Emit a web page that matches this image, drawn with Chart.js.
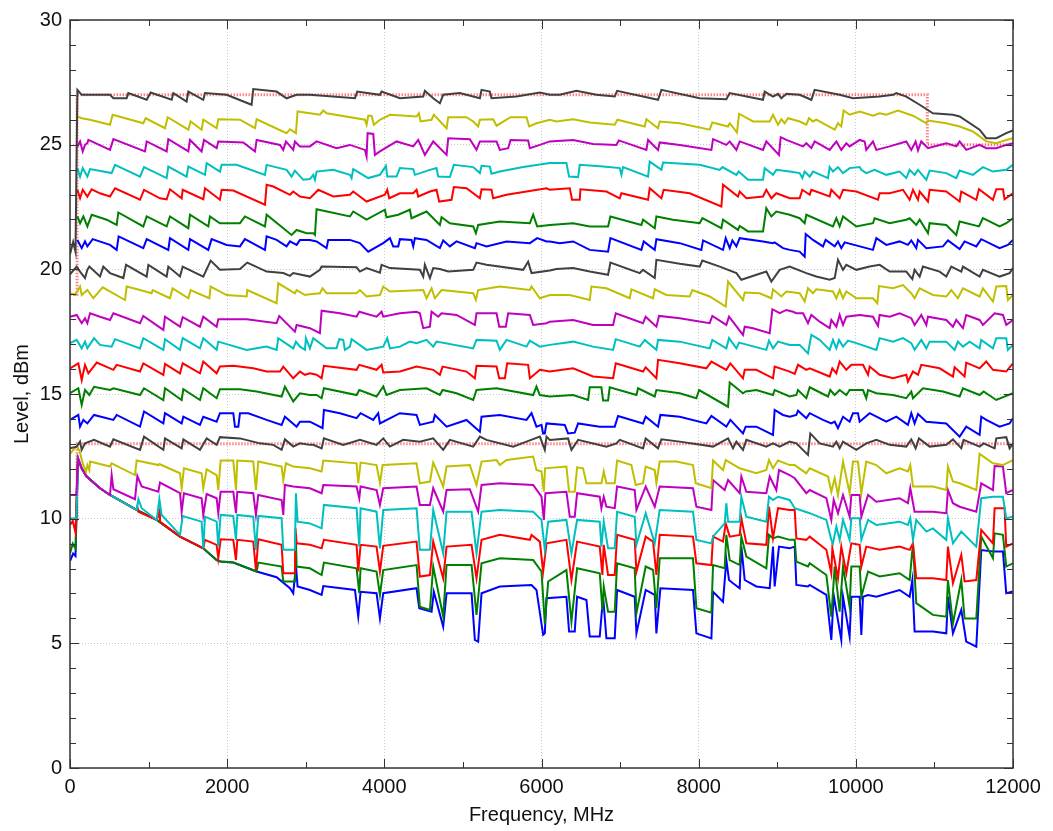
<!DOCTYPE html>
<html>
<head>
<meta charset="utf-8">
<title>Level vs frequency</title>
<script src="https://cdn.jsdelivr.net/npm/chart.js@4.4.1/dist/chart.umd.min.js"></script>
<style>
  html, body { margin: 0; padding: 0; background: #fff; }
  #wrap { width: 1053px; height: 831px; }
</style>
</head>
<body>
<div id="wrap"><canvas id="levelChart" width="1053" height="831"></canvas></div>
<script>
// axis ticks
const freqTicks = [0, 2000, 4000, 6000, 8000, 10000, 12000]
const levelTicks = [0, 5, 10, 15, 20, 25, 30]

// measured traces, [frequency MHz, level dBm], one per drive step
const trace27 = [[0,20.6],[40,21.1],[70,20.7],[94,27.2],[149,27.0],[509,27.0],[552,26.86],[721,26.86],[742,27.07],[976,26.8],[1026,27.09],[1294,26.8],[1315,27.07],[1484,26.73],[1506,27.13],[1696,26.8],[1718,27.07],[1993,27.0],[2311,26.6],[2332,27.23],[2629,27.13],[2756,26.86],[2884,27.0],[3053,27.0],[3626,26.86],[3655,27.13],[3944,27.0],[3965,27.13],[4198,26.86],[4495,26.93],[4516,27.16],[4622,26.86],[4707,26.66],[4749,27.0],[4961,27.07],[5216,26.86],[5237,27.2],[5343,27.13],[5364,26.86],[5682,26.93],[5979,27.09],[6106,27.0],[6232,27.0],[6444,27.16],[6699,27.0],[6932,26.93],[6962,27.16],[7483,26.8],[7526,27.2],[8013,26.86],[8352,26.82],[8395,27.07],[8819,26.8],[8840,27.13],[8946,26.93],[9010,27.04],[9052,26.86],[9116,27.04],[9285,27.0],[9434,26.8],[9476,27.2],[9794,27.0],[9964,26.86],[10303,26.93],[10473,27.0],[10515,27.07],[10642,26.93],[10812,26.6],[10981,26.26],[11236,26.2],[11321,26.13],[11575,25.6],[11660,25.26],[11787,25.26],[11914,25.46],[11999,25.57]]
const trace26 = [[94,26.13],[149,26.06],[255,26.0],[509,25.8],[543,26.2],[933,25.86],[963,26.06],[1209,25.66],[1243,26.1],[1506,25.6],[1535,25.93],[1675,25.6],[1696,26.0],[1866,25.66],[1887,26.02],[2163,26.0],[2354,25.66],[2375,26.02],[2756,25.46],[2799,25.62],[2875,25.46],[2896,26.33],[3053,26.26],[3180,26.2],[3223,26.37],[3265,26.26],[3753,26.0],[3774,25.8],[3795,26.16],[3838,26.16],[3867,25.8],[3944,26.0],[4071,26.2],[4410,26.13],[4440,26.26],[4461,25.93],[4601,26.0],[4630,26.2],[4792,25.66],[4813,26.1],[5046,26.1],[5131,25.93],[5194,25.73],[5216,26.0],[5385,26.02],[5428,25.76],[5606,26.1],[5809,26.1],[5843,25.73],[5936,25.86],[6106,26.0],[6190,25.93],[6402,26.02],[6614,25.89],[6932,25.8],[6966,26.0],[7314,25.73],[7335,26.02],[7483,25.66],[7504,25.93],[7759,25.86],[8140,25.6],[8174,25.89],[8374,25.73],[8395,25.86],[8488,25.49],[8514,26.24],[8692,25.93],[8904,25.93],[8946,26.2],[9010,25.8],[9052,26.02],[9094,25.86],[9137,26.06],[9285,25.93],[9370,25.8],[9404,26.06],[9455,25.93],[9497,26.0],[9731,25.6],[9773,25.86],[9815,25.73],[9845,26.37],[9921,26.2],[10049,26.33],[10218,26.16],[10303,26.26],[10388,26.2],[10536,26.37],[10727,26.16],[10854,25.93],[10897,25.86],[10918,25.97],[11151,25.86],[11321,25.73],[11490,25.53],[11660,25.13],[11787,25.06],[11914,25.19],[11999,25.26]]
const trace25 = [[94,24.93],[128,25.13],[162,24.73],[191,24.99],[221,25.06],[234,25.19],[509,24.79],[552,25.22],[954,24.73],[976,25.13],[1230,24.73],[1251,25.22],[1506,24.73],[1527,25.19],[1675,24.73],[1705,25.19],[1866,24.86],[1887,25.13],[2205,25.09],[2354,24.73],[2375,25.19],[2672,24.99],[2714,24.79],[2748,25.13],[2841,24.79],[2862,25.13],[2926,24.93],[3053,24.93],[3138,25.13],[3392,24.86],[3562,24.99],[3753,24.79],[3774,24.53],[3787,25.46],[3859,25.43],[3880,24.59],[3944,24.73],[4156,25.13],[4368,24.93],[4431,25.19],[4516,24.59],[4622,25.13],[4792,24.59],[4813,25.26],[5088,25.22],[5173,24.79],[5216,25.13],[5428,25.13],[5470,24.79],[5576,24.86],[5606,25.19],[5830,25.17],[5852,24.86],[5979,24.99],[6106,25.13],[6402,25.19],[6656,25.03],[6953,24.99],[6983,25.17],[7335,24.79],[7356,25.19],[7483,24.79],[7504,25.09],[7759,24.99],[8162,24.79],[8183,25.22],[8352,24.99],[8395,25.13],[8480,24.79],[8522,25.13],[8819,24.79],[8861,25.13],[9022,24.59],[9044,25.3],[9116,25.19],[9328,24.93],[9370,25.06],[9434,24.86],[9476,25.13],[9667,24.79],[9752,25.13],[9815,24.79],[9879,25.06],[9921,24.93],[10049,25.19],[10112,25.13],[10133,24.79],[10218,25.13],[10261,24.79],[10430,24.93],[10642,25.13],[10706,24.79],[10761,25.13],[10791,24.77],[10833,25.13],[10918,24.86],[11151,25.06],[11278,24.93],[11321,25.13],[11405,24.79],[11575,24.99],[11660,24.86],[11787,24.86],[11914,24.99],[11999,25.06]]
const trace24 = [[94,24.06],[128,23.72],[162,24.06],[221,23.72],[255,24.02],[530,23.86],[573,24.19],[891,23.72],[942,24.1],[1230,23.66],[1251,24.12],[1484,23.72],[1506,24.12],[1718,23.79],[1739,24.26],[1908,23.92],[1930,24.19],[2120,24.19],[2481,23.79],[2502,24.19],[2756,23.99],[2820,23.72],[2862,23.96],[2968,23.59],[3053,23.62],[3096,23.79],[3117,23.59],[3138,23.92],[3350,23.99],[3562,23.79],[3583,23.66],[3604,24.02],[3689,23.86],[3795,23.66],[3944,23.79],[4020,24.15],[4037,23.72],[4156,23.72],[4198,24.06],[4368,24.02],[4389,23.79],[4580,23.99],[4664,24.06],[4686,23.72],[4834,23.7],[4885,24.19],[5131,24.1],[5216,23.86],[5237,24.15],[5343,24.12],[5364,23.83],[5470,23.92],[5767,24.1],[6106,24.26],[6317,24.26],[6351,23.72],[6466,23.7],[6487,24.19],[6784,24.12],[6996,24.06],[7017,23.79],[7038,24.1],[7356,23.72],[7377,24.32],[7526,23.99],[7547,24.28],[8013,24.19],[8268,23.99],[8302,24.1],[8480,23.79],[8509,23.92],[8628,23.59],[8819,23.59],[8840,24.06],[8946,23.79],[8988,23.99],[9158,23.92],[9285,23.86],[9319,23.66],[9349,23.92],[9413,23.72],[9455,23.92],[9646,23.66],[9667,24.1],[9709,23.92],[9773,24.1],[9837,23.86],[9921,24.06],[10049,24.1],[10070,23.99],[10133,23.86],[10239,23.99],[10388,23.79],[10557,23.92],[10642,23.66],[10685,23.99],[10748,23.79],[10791,23.99],[10897,23.59],[10939,23.96],[11151,23.86],[11278,23.66],[11321,23.96],[11490,23.79],[11617,24.1],[11745,23.92],[11914,23.99],[11999,24.19]]
const trace23 = [[94,23.19],[128,22.85],[162,23.19],[221,22.92],[276,23.21],[382,23.05],[509,22.92],[573,23.25],[891,22.79],[942,23.19],[1145,22.85],[1230,22.81],[1272,23.21],[1421,22.85],[1434,23.19],[1696,22.81],[1718,23.25],[1908,22.79],[1930,23.19],[2078,23.16],[2481,22.59],[2502,23.39],[2587,23.32],[2799,22.99],[2841,23.12],[2926,22.92],[3053,22.85],[3117,23.05],[3159,23.19],[3350,22.92],[3562,22.99],[3604,23.12],[3774,22.72],[4007,22.99],[4037,23.19],[4062,22.85],[4198,23.05],[4368,23.05],[4410,23.19],[4431,22.92],[4580,23.12],[4664,23.19],[4698,22.72],[4855,22.79],[4885,23.3],[5046,23.25],[5216,22.85],[5237,23.21],[5364,23.19],[5385,22.85],[5555,22.99],[6064,23.25],[6106,23.19],[6360,23.25],[6389,22.79],[6487,22.79],[6495,23.21],[6826,23.12],[6996,22.85],[7017,23.05],[7356,22.79],[7377,23.25],[7526,22.85],[7555,23.19],[7886,23.05],[8289,22.52],[8310,23.39],[8501,22.92],[8522,23.12],[8607,22.85],[8819,22.92],[8861,23.19],[8925,22.85],[8988,23.05],[9158,22.85],[9285,22.85],[9319,23.19],[9413,22.99],[9434,23.19],[9667,22.92],[9688,23.19],[9794,22.85],[9837,23.19],[10006,23.12],[10282,22.79],[10303,23.05],[10430,23.05],[10600,23.19],[10685,22.79],[10727,23.19],[10791,22.79],[10812,23.12],[10918,22.72],[10939,23.19],[11151,23.12],[11321,22.72],[11342,23.12],[11533,22.79],[11567,23.21],[11745,22.79],[11787,23.21],[11872,23.21],[11893,22.81],[11999,23.05]]
const trace22 = [[94,22.12],[128,21.85],[170,22.12],[221,21.72],[276,22.19],[467,21.99],[594,21.78],[615,22.28],[933,21.72],[976,22.12],[1230,21.72],[1272,22.12],[1506,21.65],[1527,22.19],[1760,21.72],[1781,22.12],[1908,21.85],[2163,21.85],[2226,22.12],[2481,21.72],[2502,22.19],[2820,21.38],[2884,21.58],[3011,21.45],[3053,21.45],[3096,21.45],[3117,21.38],[3138,22.41],[3562,22.12],[3604,22.32],[3774,21.99],[4007,22.39],[4028,22.09],[4177,22.19],[4325,22.39],[4346,22.05],[4537,22.32],[4707,21.78],[4728,22.09],[4834,21.85],[5131,21.72],[5165,21.45],[5194,21.78],[5470,21.92],[5852,21.85],[5894,22.19],[5945,21.72],[6106,21.78],[6402,21.85],[6614,21.72],[6847,21.72],[6877,22.12],[7271,21.78],[7292,21.99],[7441,21.65],[7462,22.12],[7674,21.99],[8013,21.85],[8047,22.05],[8289,21.65],[8310,21.99],[8501,21.58],[8522,21.74],[8628,21.52],[8819,21.52],[8861,22.45],[8925,22.12],[8988,22.32],[9158,22.19],[9285,22.05],[9349,21.85],[9370,22.19],[9709,21.72],[9752,22.05],[9794,21.72],[9837,22.12],[10006,21.72],[10218,21.85],[10239,22.05],[10430,21.85],[10642,21.99],[10685,22.05],[10769,21.78],[10812,21.99],[10918,21.45],[10939,21.85],[11151,21.78],[11278,21.38],[11321,21.92],[11567,21.72],[11617,22.05],[11829,21.72],[11914,21.85],[11999,22.05]]
const trace21 = [[94,21.18],[149,20.85],[191,21.12],[221,20.92],[289,21.21],[509,20.98],[594,20.78],[619,21.32],[933,20.85],[976,21.21],[1251,20.78],[1272,21.25],[1506,20.78],[1527,21.21],[1760,20.78],[1802,21.21],[1993,20.98],[2163,20.92],[2226,21.21],[2481,20.78],[2502,21.32],[2629,21.18],[2756,20.92],[2799,21.12],[2884,20.98],[2926,21.18],[3053,21.18],[3138,21.12],[3265,20.85],[3286,21.18],[3562,21.18],[3689,21.05],[3795,20.71],[3986,21.05],[4071,21.25],[4113,20.92],[4177,20.92],[4198,21.21],[4346,21.18],[4368,20.92],[4389,21.25],[4537,21.18],[4707,20.85],[4749,21.16],[4834,20.92],[4919,21.12],[5152,20.85],[5173,21.05],[5300,20.92],[5555,21.12],[5852,21.05],[5945,21.25],[6064,21.12],[6106,21.12],[6232,21.05],[6402,21.12],[6614,20.78],[6847,20.71],[6877,21.25],[7271,20.78],[7301,21.12],[7441,20.78],[7462,21.21],[7759,21.05],[8034,20.78],[8056,21.16],[8310,20.78],[8344,21.25],[8395,20.85],[8429,21.16],[8480,20.92],[8522,21.25],[8819,21.12],[8946,21.05],[8967,21.08],[9073,20.85],[9158,20.78],[9285,20.71],[9349,20.51],[9362,21.42],[9455,21.18],[9582,20.92],[9616,21.18],[9731,20.92],[9773,21.12],[9815,20.85],[9858,21.08],[10218,20.78],[10261,21.25],[10388,20.98],[10557,21.12],[10663,20.98],[10706,21.16],[10769,20.85],[10791,21.18],[10897,20.85],[11109,20.92],[11172,21.16],[11321,20.81],[11384,21.12],[11533,20.92],[11596,21.21],[11829,20.85],[11935,20.98],[11999,21.18]]
const trace20 = [[0,19.8],[85,20.11],[128,19.91],[191,19.65],[221,19.98],[246,20.11],[382,19.71],[424,20.11],[509,19.85],[679,19.65],[713,20.18],[976,19.71],[997,20.18],[1230,19.71],[1251,20.11],[1400,19.71],[1434,20.11],[1696,19.71],[1790,20.35],[1908,19.98],[2163,20.01],[2256,20.27],[2502,19.91],[2714,19.85],[2799,19.74],[2841,19.85],[3053,19.71],[3180,19.98],[3202,20.11],[3647,20.08],[3689,19.91],[3774,20.05],[3944,19.87],[3965,20.18],[4071,20.05],[4452,19.98],[4495,19.71],[4516,20.18],[4580,19.65],[4622,20.05],[4707,20.01],[4813,19.91],[5131,19.98],[5173,20.27],[5300,20.18],[5767,19.98],[5830,20.31],[5873,19.85],[6106,19.95],[6190,20.01],[6402,20.05],[6614,19.91],[6847,19.78],[6877,20.27],[7250,19.85],[7292,19.98],[7441,19.65],[7462,20.38],[7759,20.22],[8013,20.11],[8047,20.35],[8268,20.11],[8480,19.85],[8543,19.58],[8861,19.91],[8925,19.51],[9031,19.98],[9158,20.11],[9370,19.85],[9497,19.71],[9667,19.58],[9731,19.65],[9773,20.38],[9837,19.98],[9879,20.18],[10006,19.98],[10176,20.11],[10303,20.18],[10430,19.91],[10642,19.91],[10719,19.61],[10748,19.98],[10812,19.71],[10854,20.11],[11066,19.91],[11151,19.71],[11215,20.11],[11342,19.91],[11363,20.11],[11575,19.71],[11617,19.98],[11829,19.71],[11957,19.85],[11999,20.05]]
const trace19 = [[0,19.04],[64,18.97],[128,19.31],[149,18.97],[221,19.17],[297,18.84],[416,19.28],[700,18.77],[721,19.31],[891,19.17],[1039,19.04],[1052,19.17],[1272,18.84],[1306,19.24],[1506,18.84],[1535,19.17],[1773,18.84],[1790,19.31],[1993,18.97],[2248,18.91],[2256,19.17],[2629,18.64],[2650,19.44],[2862,19.04],[2884,19.17],[2990,18.97],[3053,19.0],[3180,19.04],[3214,19.24],[3265,19.04],[3647,19.04],[3689,19.17],[3774,18.91],[3944,18.97],[3986,19.31],[4071,19.11],[4495,19.17],[4537,18.84],[4601,19.24],[4643,18.84],[4728,19.17],[5131,19.04],[5165,18.77],[5194,19.17],[5470,19.31],[5852,19.17],[5873,19.31],[5979,18.84],[6106,18.97],[6360,18.97],[6614,18.77],[6635,19.31],[6826,19.24],[7123,18.84],[7144,19.2],[7420,18.84],[7441,19.2],[7589,18.97],[7886,18.91],[7920,19.17],[8140,18.91],[8344,18.51],[8374,19.51],[8564,18.77],[8586,19.07],[8776,19.04],[8925,18.84],[8946,19.2],[9052,18.91],[9116,19.11],[9285,19.04],[9349,18.71],[9391,19.24],[9455,19.04],[9497,19.2],[9709,19.11],[9752,18.84],[9794,19.17],[9837,18.84],[9879,19.11],[10006,18.84],[10218,18.84],[10273,18.64],[10295,19.33],[10473,19.24],[10600,19.37],[10706,19.04],[10748,18.84],[10812,19.24],[10981,18.97],[11151,18.91],[11215,19.17],[11299,18.84],[11363,19.24],[11575,18.91],[11617,19.24],[11745,18.71],[11787,19.31],[11914,19.33],[11935,18.77],[11999,18.97]]
const trace18 = [[0,18.10],[85,18.17],[149,17.84],[191,18.04],[221,17.84],[255,18.24],[382,18.10],[509,17.97],[552,18.24],[891,17.84],[933,18.13],[1188,17.57],[1209,18.10],[1400,17.70],[1434,18.08],[1654,17.70],[1696,18.10],[1866,17.70],[1887,18.0],[2248,18.0],[2629,17.84],[2663,18.13],[2862,17.5],[2884,17.77],[3053,17.64],[3096,17.57],[3180,17.44],[3202,18.34],[3435,18.24],[3647,18.10],[3681,18.30],[3901,18.10],[3965,18.30],[3986,18.10],[4198,18.24],[4410,18.30],[4452,18.24],[4495,17.64],[4580,17.70],[4601,18.30],[4686,18.10],[4728,18.24],[4919,18.17],[5152,17.77],[5173,18.24],[5428,18.24],[5462,17.70],[5546,17.70],[5576,18.24],[5852,18.17],[5894,17.77],[6064,17.84],[6106,17.90],[6402,17.97],[6656,17.77],[6911,17.77],[6945,18.24],[7292,17.84],[7326,18.10],[7462,17.70],[7496,18.13],[7759,18.04],[8140,17.84],[8174,18.13],[8352,17.77],[8386,18.10],[8564,17.37],[8586,17.70],[8692,17.64],[8904,17.44],[8938,18.40],[9031,18.24],[9116,18.37],[9201,18.30],[9243,18.24],[9328,18.24],[9391,17.84],[9434,18.17],[9540,17.90],[9667,17.64],[9688,17.97],[9752,17.70],[9794,18.17],[9837,17.77],[9879,18.10],[10049,18.17],[10218,18.10],[10282,17.73],[10303,18.17],[10430,18.10],[10557,18.24],[10706,18.04],[10748,17.77],[10833,18.17],[10897,17.77],[10918,18.10],[11151,17.97],[11236,17.70],[11278,17.97],[11363,17.64],[11405,18.17],[11575,17.97],[11617,17.77],[11766,18.24],[11872,18.17],[11914,17.77],[11999,17.97]]
const trace17 = [[0,17.04],[85,17.17],[149,16.83],[191,17.10],[221,16.83],[306,17.24],[382,16.97],[530,16.90],[573,17.20],[891,16.83],[933,17.24],[1188,16.77],[1209,17.20],[1400,16.77],[1434,17.24],[1654,16.83],[1696,17.24],[1866,16.77],[1887,17.10],[2248,16.77],[2502,16.90],[2629,16.77],[2650,17.24],[2841,16.83],[2875,17.10],[2926,16.90],[2990,16.77],[3002,17.24],[3053,16.83],[3096,17.24],[3265,16.83],[3392,16.83],[3426,17.20],[3477,17.17],[3498,16.77],[3562,16.90],[3583,17.20],[3774,16.77],[3986,16.90],[4037,17.24],[4071,16.83],[4198,16.90],[4325,17.10],[4410,17.04],[4537,17.17],[4622,16.90],[4664,17.10],[5131,16.83],[5173,17.17],[5428,17.14],[5470,16.77],[5555,17.17],[5809,16.90],[5852,17.14],[5979,16.90],[6106,16.97],[6402,17.10],[6656,16.90],[6911,16.77],[6945,17.20],[7250,16.90],[7314,17.17],[7462,16.77],[7483,17.17],[7759,17.10],[8140,16.83],[8174,17.17],[8352,16.83],[8386,17.24],[8480,16.83],[8514,17.06],[8861,16.77],[8895,17.14],[8946,16.83],[9010,17.10],[9158,16.97],[9285,16.97],[9391,16.63],[9434,17.37],[9540,17.17],[9667,16.77],[9709,17.17],[9752,16.83],[9786,17.17],[9837,16.90],[9900,17.14],[10006,17.04],[10261,16.77],[10303,17.24],[10473,17.10],[10600,17.24],[10706,17.04],[10748,16.77],[10833,17.17],[10897,16.83],[10939,17.10],[11151,17.10],[11257,16.77],[11299,17.10],[11363,16.90],[11448,17.10],[11575,16.83],[11596,17.17],[11745,16.83],[11787,17.24],[11914,17.24],[11935,16.77],[11999,16.97]]
const trace16 = [[0,16.03],[106,16.23],[149,15.56],[191,16.17],[234,15.83],[340,16.26],[552,15.97],[594,16.17],[891,15.90],[933,16.23],[1188,15.77],[1209,16.21],[1400,15.83],[1434,16.23],[1654,15.83],[1696,16.3],[1866,15.83],[1908,16.1],[2078,16.13],[2332,16.03],[2502,15.9],[2672,15.9],[2714,16.1],[2841,15.63],[2926,15.9],[2990,15.77],[3053,15.83],[3138,15.77],[3202,15.63],[3231,16.13],[3647,15.97],[3681,16.17],[3901,15.97],[3965,16.17],[3986,15.86],[4198,15.9],[4410,16.1],[4622,15.97],[4707,15.77],[4741,16.1],[5046,15.9],[5152,15.63],[5173,16.13],[5428,16.1],[5462,15.63],[5534,15.63],[5563,16.23],[5830,16.17],[5852,15.63],[5979,15.97],[6106,15.9],[6402,16.03],[6656,15.70],[6911,15.63],[6945,16.23],[7292,15.9],[7326,16.07],[7462,15.63],[7483,16.37],[7759,16.23],[8098,16.03],[8162,16.3],[8352,15.97],[8403,16.23],[8564,15.63],[8586,15.97],[8734,15.97],[8946,15.63],[8967,16.1],[9158,15.9],[9222,15.81],[9264,16.17],[9370,15.97],[9413,16.03],[9667,15.70],[9701,16.03],[9752,15.83],[9794,16.3],[9879,15.97],[9943,16.17],[10091,16.17],[10155,15.77],[10176,16.1],[10303,15.77],[10473,15.63],[10642,15.77],[10663,15.5],[10727,15.9],[10791,15.77],[10833,16.17],[11066,16.03],[11236,15.70],[11257,16.07],[11384,15.70],[11405,16.26],[11575,16.03],[11660,16.3],[11745,15.97],[11914,15.9],[11999,16.23]]
const trace15 = [[0,15.03],[106,15.23],[149,14.56],[191,15.16],[246,14.96],[306,15.29],[509,15.16],[552,15.23],[891,14.96],[942,15.23],[1188,14.76],[1209,15.23],[1421,14.76],[1442,15.19],[1654,14.76],[1696,15.23],[1866,14.83],[1908,15.19],[2163,15.19],[2375,15.1],[2693,14.90],[2735,15.29],[2841,14.7],[2926,15.03],[3053,14.96],[3138,14.96],[3202,14.83],[3231,15.23],[3647,14.96],[3681,15.16],[3901,14.90],[3986,15.30],[4028,14.96],[4198,15.16],[4537,15.23],[4707,14.96],[4741,15.16],[4919,15.03],[5131,14.76],[5173,15.16],[5428,15.23],[5894,14.96],[5936,15.30],[5979,14.96],[6106,14.90],[6402,14.96],[6593,14.76],[6614,15.27],[6762,15.27],[6784,14.74],[6847,14.74],[6868,15.27],[7208,14.96],[7229,15.23],[7441,14.90],[7462,15.16],[7759,15.03],[7971,14.83],[8005,15.16],[8374,14.49],[8395,15.46],[8564,15.03],[8598,15.1],[8734,15.16],[8946,14.96],[8967,15.16],[9158,14.90],[9243,14.96],[9264,15.16],[9370,14.83],[9413,15.27],[9646,14.90],[9675,15.16],[9731,14.96],[9794,15.16],[9879,14.96],[9921,15.16],[10091,15.16],[10133,14.83],[10155,15.16],[10261,15.03],[10473,14.96],[10642,14.83],[10706,15.1],[10727,14.83],[10854,15.23],[11109,15.1],[11321,14.90],[11363,15.23],[11575,14.96],[11626,15.1],[11787,14.76],[11999,15.03]]
const trace14 = [[0,13.96],[106,14.16],[128,13.69],[170,13.96],[221,13.82],[306,14.16],[552,13.96],[594,14.16],[891,13.69],[942,14.30],[1188,13.82],[1209,14.23],[1421,13.82],[1442,14.09],[1654,13.76],[1696,14.09],[1866,13.89],[1908,14.23],[2078,14.23],[2099,13.69],[2142,13.69],[2163,14.23],[2269,14.23],[2502,13.96],[2693,13.76],[2735,14.09],[2884,13.69],[2926,13.89],[3053,13.89],[3096,13.82],[3214,13.63],[3231,14.36],[3435,14.23],[3647,14.03],[3698,14.23],[3859,13.96],[3922,14.23],[3944,13.82],[4198,14.23],[4410,14.16],[4452,13.76],[4622,13.89],[4643,14.16],[4792,13.69],[5046,13.96],[5216,13.49],[5237,14.09],[5470,14.16],[5809,13.96],[5873,14.23],[5936,13.69],[6000,13.76],[6020,13.42],[6042,13.42],[6063,13.82],[6296,13.76],[6338,13.42],[6423,13.45],[6466,13.82],[6741,13.69],[6932,13.69],[6974,14.12],[7292,13.82],[7326,14.09],[7483,13.69],[7513,14.16],[7759,14.09],[8098,13.82],[8162,14.12],[8352,13.69],[8403,13.96],[8564,13.42],[8598,13.69],[8734,13.69],[8946,13.36],[8967,14.36],[9073,14.16],[9158,14.09],[9243,14.16],[9264,14.33],[9370,14.03],[9413,14.23],[9582,13.96],[9688,13.82],[9731,13.89],[9773,13.63],[9837,14.09],[9921,13.89],[9964,14.23],[10027,14.23],[10049,13.89],[10176,14.23],[10388,13.89],[10515,14.09],[10663,13.76],[10706,14.23],[10748,13.82],[10791,14.20],[10897,13.89],[11151,13.82],[11321,13.29],[11405,13.69],[11575,13.36],[11596,14.09],[11660,13.96],[11829,13.69],[11957,13.82],[11999,14.03]]
const trace13 = [[0,12.82],[85,12.89],[128,13.09],[149,12.76],[191,13.02],[306,13.16],[509,12.89],[552,13.18],[891,12.76],[942,13.29],[1188,12.76],[1209,13.22],[1421,12.82],[1442,13.18],[1654,12.76],[1739,13.22],[1866,12.96],[1908,13.27],[2163,13.22],[2417,13.02],[2587,12.96],[2693,12.76],[2735,13.18],[2841,12.89],[2926,13.02],[3053,12.96],[3096,12.96],[3202,12.82],[3231,13.22],[3477,12.96],[3689,13.16],[3901,12.96],[3986,13.22],[4071,12.89],[4240,13.16],[4452,13.09],[4622,13.22],[4749,12.76],[4792,12.96],[4834,13.16],[5131,12.89],[5216,13.29],[5300,13.16],[5640,12.89],[5809,13.09],[5979,13.29],[6042,12.76],[6064,13.29],[6106,13.16],[6338,13.22],[6381,12.76],[6466,13.16],[6826,12.89],[6953,13.02],[6996,13.16],[7292,12.82],[7326,13.22],[7483,12.82],[7526,13.18],[7759,13.09],[8183,12.89],[8374,13.22],[8437,12.82],[8480,13.09],[8564,12.76],[8607,13.16],[8861,12.89],[8946,13.02],[9031,12.89],[9158,13.09],[9243,13.02],[9391,12.56],[9421,13.42],[9540,13.02],[9709,12.89],[9752,13.09],[9794,12.82],[9837,13.09],[10006,12.76],[10133,13.02],[10261,13.16],[10430,12.96],[10642,12.89],[10706,13.18],[10761,12.82],[10803,13.22],[10939,12.89],[11151,12.96],[11236,13.18],[11342,12.82],[11371,13.16],[11575,12.89],[11626,13.02],[11766,12.82],[11787,13.22],[11914,13.27],[11957,12.82],[11999,13.02]]
const trace12 = [[0,12.6],[80,12.9],[119,12.75],[162,12.22],[204,11.89],[221,12.15],[246,11.95],[255,12.29],[509,12.09],[530,12.22],[827,11.75],[848,12.33],[1124,12.15],[1137,12.19],[1400,11.82],[1421,11.22],[1450,12.02],[1675,11.82],[1696,11.22],[1739,11.98],[1866,11.75],[1887,11.15],[1917,12.33],[2078,12.33],[2112,11.15],[2129,12.33],[2332,12.29],[2366,11.15],[2396,12.29],[2693,12.09],[2714,11.55],[2748,12.22],[2841,12.09],[3053,12.02],[3202,11.89],[3223,12.33],[3647,12.22],[3668,11.42],[3698,12.25],[3901,12.15],[3944,11.42],[3978,12.15],[4410,12.22],[4452,11.42],[4580,11.49],[4622,12.25],[4664,11.95],[4749,11.29],[4792,12.09],[5088,12.15],[5173,11.35],[5237,12.29],[5428,12.35],[5470,12.15],[5555,12.35],[5894,12.49],[5936,11.95],[6000,11.89],[6030,11.08],[6045,12.02],[6317,12.09],[6351,11.08],[6423,11.08],[6453,12.06],[6529,12.02],[6572,11.42],[6762,11.42],[6792,11.89],[6826,11.42],[6932,11.42],[6962,12.33],[7144,12.15],[7199,11.35],[7292,11.42],[7326,12.09],[7441,11.95],[7462,11.42],[7504,12.29],[7716,12.29],[7928,12.15],[7962,11.42],[8162,11.22],[8183,12.33],[8310,11.95],[8344,12.35],[8522,12.02],[8734,11.82],[8861,11.95],[8895,12.35],[8946,12.02],[9010,12.33],[9158,12.15],[9222,12.15],[9370,11.82],[9413,12.02],[9646,11.69],[9688,11.08],[9731,11.62],[9773,10.95],[9837,12.29],[9921,11.02],[9964,12.29],[10027,12.29],[10070,11.02],[10133,12.29],[10261,12.15],[10388,11.82],[10557,12.02],[10663,11.89],[10693,12.15],[10727,11.29],[10981,11.29],[11151,11.15],[11172,12.09],[11236,11.49],[11321,11.42],[11533,11.15],[11575,12.6],[11745,12.22],[11872,12.15],[11999,12.35]]
const trace11 = [[0,10.95],[80,10.95],[106,12.4],[149,12.02],[212,11.69],[382,11.22],[509,10.95],[530,11.75],[552,11.18],[827,10.78],[857,11.71],[912,11.29],[1124,11.08],[1145,11.45],[1400,11.02],[1421,10.28],[1450,11.02],[1675,10.82],[1696,10.15],[1739,10.99],[1866,10.82],[1887,10.22],[1917,11.08],[2078,11.08],[2112,10.22],[2129,11.08],[2332,11.02],[2366,10.15],[2396,10.95],[2693,10.75],[2714,10.15],[2735,11.35],[2841,11.29],[3053,11.22],[3202,11.02],[3223,11.35],[3647,11.29],[3681,10.82],[3698,11.29],[3901,11.15],[3944,10.55],[3986,11.22],[4410,11.29],[4452,10.55],[4580,10.55],[4622,11.22],[4749,10.28],[4792,11.15],[5088,11.18],[5194,10.28],[5237,11.35],[5470,11.42],[5894,11.35],[6000,10.88],[6030,9.95],[6050,11.02],[6317,11.08],[6360,10.08],[6423,10.08],[6453,11.02],[6741,10.88],[6762,10.42],[6792,10.88],[6826,10.48],[6932,10.42],[6962,11.29],[7186,11.15],[7208,10.35],[7326,11.29],[7441,10.48],[7504,11.29],[7928,11.22],[7971,10.48],[8162,10.35],[8183,11.55],[8331,11.15],[8374,11.55],[8522,11.02],[8543,11.69],[8607,11.08],[8861,11.02],[8904,11.69],[8988,11.15],[9022,11.95],[9158,11.75],[9222,11.62],[9370,11.02],[9413,11.15],[9625,10.82],[9688,9.95],[9718,10.75],[9773,10.22],[9837,10.95],[9921,10.08],[9943,10.95],[10049,10.95],[10070,10.08],[10155,10.95],[10261,10.68],[10557,10.82],[10663,10.62],[10693,11.22],[10748,10.28],[10981,10.28],[11151,10.22],[11172,11.15],[11236,10.62],[11321,10.48],[11533,10.28],[11596,11.42],[11745,11.15],[11766,12.11],[11872,12.09],[11914,11.02],[11999,11.15]]
const trace10 = [[0,10.0],[80,10.02],[106,12.4],[149,12.02],[212,11.69],[382,11.22],[509,10.95],[848,10.35],[870,10.78],[912,10.42],[1103,9.95],[1137,10.78],[1166,10.15],[1400,9.35],[1434,10.11],[1675,9.88],[1696,8.81],[1718,10.08],[1866,9.88],[1887,8.88],[1917,10.15],[2078,10.11],[2112,9.15],[2129,10.15],[2332,10.08],[2366,8.75],[2396,10.11],[2693,10.02],[2714,8.75],[2862,8.75],[2875,11.02],[2896,9.88],[3053,9.81],[3202,9.61],[3231,10.55],[3647,10.42],[3681,8.88],[3698,10.42],[3901,10.28],[3944,8.81],[3986,10.35],[4410,10.42],[4452,8.75],[4580,8.75],[4622,10.35],[4749,8.61],[4792,10.28],[5110,10.28],[5173,8.61],[5237,10.28],[5470,10.35],[5894,10.28],[6000,9.95],[6042,8.75],[6085,9.88],[6317,9.95],[6381,8.61],[6453,9.95],[6741,9.88],[6762,8.88],[6792,9.88],[6847,8.81],[6932,8.81],[6962,10.28],[7186,10.08],[7208,8.95],[7326,10.22],[7441,9.01],[7504,10.35],[7928,10.28],[7971,9.15],[8162,9.01],[8183,9.28],[8331,9.81],[8352,10.62],[8374,9.88],[8522,9.88],[8543,10.88],[8607,10.08],[8861,9.88],[8895,10.88],[8946,10.75],[9010,10.88],[9158,10.75],[9222,10.42],[9413,10.22],[9625,9.95],[9688,9.15],[9709,9.01],[9752,9.68],[9794,9.15],[9837,9.95],[9921,9.15],[9943,10.02],[10049,10.02],[10070,9.15],[10155,9.95],[10261,9.75],[10557,9.88],[10663,9.75],[10693,10.02],[10727,9.15],[10769,9.95],[10897,9.48],[10981,9.61],[11151,9.15],[11172,10.02],[11236,9.01],[11342,9.48],[11533,8.88],[11596,10.82],[11745,10.88],[11872,10.88],[11914,10.02],[11999,10.08]]
const trace9 = [[0,9.75],[35,9.9],[70,9.45],[100,12.4],[149,12.02],[212,11.69],[382,11.22],[509,10.95],[848,10.35],[857,10.48],[870,10.28],[1103,9.95],[1137,10.28],[1145,9.88],[1400,9.28],[1696,8.81],[1718,9.15],[1866,8.95],[1887,8.41],[1917,9.17],[2078,9.15],[2112,8.34],[2129,9.15],[2332,9.08],[2366,7.94],[2396,9.17],[2693,8.95],[2714,7.81],[2862,7.81],[2870,9.61],[2884,9.01],[3053,8.95],[3202,8.81],[3231,9.15],[3647,8.95],[3668,7.88],[3698,8.95],[3901,8.88],[3944,7.88],[3986,8.91],[4410,9.08],[4452,7.68],[4580,7.74],[4622,9.08],[4749,7.61],[4792,8.88],[5110,8.95],[5173,7.61],[5237,9.15],[5470,9.35],[5852,9.15],[5873,9.35],[5979,9.08],[6021,7.88],[6064,9.01],[6317,9.15],[6381,7.54],[6453,9.08],[6741,8.88],[6775,7.74],[6792,8.95],[6847,7.74],[6932,7.74],[6962,9.35],[7186,9.15],[7208,7.88],[7326,9.28],[7420,9.08],[7462,7.74],[7504,9.35],[7928,9.28],[7971,8.21],[8162,8.14],[8183,9.28],[8310,9.08],[8344,9.81],[8395,9.28],[8522,9.35],[8543,10.02],[8607,9.01],[8861,8.95],[8895,10.48],[8946,9.21],[9010,10.42],[9158,10.35],[9222,10.35],[9243,9.21],[9370,9.15],[9413,9.28],[9625,8.75],[9688,7.81],[9701,8.81],[9773,7.61],[9815,8.88],[9879,7.81],[9943,9.01],[10049,8.95],[10070,8.08],[10133,8.88],[10303,8.75],[10557,8.88],[10685,8.75],[10727,9.01],[10769,7.61],[10981,7.61],[11151,7.54],[11172,8.88],[11236,7.41],[11342,8.55],[11384,7.48],[11533,7.54],[11596,9.55],[11745,9.01],[11766,10.42],[11893,10.42],[11914,8.88],[11999,9.01]]
const trace8 = [[0,8.6],[35,9.0],[70,8.8],[100,12.4],[149,12.02],[212,11.69],[382,11.22],[509,10.95],[848,10.35],[1103,9.95],[1400,9.28],[1696,8.81],[1866,8.34],[1917,8.28],[2078,8.24],[2375,7.88],[2396,8.24],[2693,8.08],[2714,7.48],[2862,7.48],[2875,9.15],[2884,8.08],[3053,8.01],[3202,7.74],[3231,8.24],[3647,8.01],[3681,7.01],[3698,8.01],[3901,7.88],[3944,6.94],[3986,7.94],[4410,8.14],[4452,6.47],[4580,6.34],[4622,8.08],[4749,6.07],[4792,8.14],[5110,8.14],[5173,6.14],[5237,8.21],[5470,8.41],[5894,8.34],[6000,7.88],[6042,5.80],[6085,7.48],[6317,7.94],[6381,5.87],[6453,8.01],[6741,7.81],[6775,6.34],[6792,7.28],[6847,6.27],[6932,6.27],[6962,8.21],[7186,8.01],[7208,6.21],[7326,8.08],[7420,7.94],[7462,6.41],[7504,8.41],[7928,8.41],[7971,6.41],[8162,6.23],[8183,8.14],[8331,8.01],[8352,9.35],[8395,8.34],[8522,8.14],[8543,9.28],[8607,8.48],[8861,8.01],[8895,9.35],[8946,9.21],[9010,9.28],[9158,9.15],[9222,9.15],[9243,8.28],[9391,8.08],[9413,8.21],[9625,7.74],[9688,6.07],[9731,8.08],[9794,6.27],[9837,8.08],[9921,6.47],[9943,8.08],[10049,8.08],[10070,6.87],[10155,7.88],[10303,7.68],[10557,7.81],[10685,7.54],[10727,9.01],[10769,6.61],[10981,6.14],[11151,6.07],[11172,7.54],[11236,5.80],[11342,7.54],[11384,6.00],[11533,6.00],[11596,9.28],[11745,8.41],[11766,9.41],[11872,9.35],[11914,8.08],[11999,8.21]]
const trace7 = [[0,8.3],[40,8.6],[70,8.5],[100,12.4],[149,12.02],[212,11.69],[382,11.22],[509,10.95],[848,10.35],[1103,9.95],[1400,9.28],[1696,8.81],[1866,8.34],[1917,8.28],[2078,8.24],[2375,7.88],[2629,7.65],[2799,7.21],[2841,7.01],[2875,8.14],[2896,7.28],[3053,7.14],[3202,6.94],[3223,7.30],[3626,7.14],[3668,6.07],[3698,7.07],[3901,7.01],[3944,6.00],[3986,7.01],[4410,7.21],[4444,6.41],[4601,6.27],[4630,7.07],[4749,5.67],[4792,7.01],[5110,7.01],[5152,5.14],[5194,5.07],[5237,7.01],[5470,7.28],[5873,7.34],[5936,7.14],[6021,5.34],[6042,5.40],[6063,6.81],[6317,6.87],[6351,5.47],[6423,5.47],[6453,6.87],[6572,6.74],[6614,5.27],[6741,5.27],[6784,6.87],[6826,5.20],[6932,5.20],[6962,7.14],[7186,6.87],[7208,5.40],[7326,7.14],[7441,6.94],[7462,5.40],[7513,7.21],[7928,7.14],[7971,5.40],[8162,5.20],[8183,7.07],[8310,6.67],[8352,8.34],[8386,7.54],[8437,7.41],[8522,7.21],[8543,8.88],[8586,7.54],[8734,7.28],[8904,7.21],[8946,8.88],[8967,7.28],[9022,8.88],[9158,8.81],[9222,8.88],[9243,7.34],[9391,7.28],[9413,7.34],[9625,6.94],[9688,5.14],[9718,6.94],[9815,5.14],[9837,6.87],[9921,5.27],[9943,6.87],[10049,6.87],[10070,5.34],[10091,6.87],[10155,6.94],[10261,6.87],[10557,7.14],[10685,6.87],[10719,7.54],[10748,5.47],[10981,5.47],[11151,5.40],[11172,6.87],[11236,5.40],[11342,6.34],[11405,5.07],[11533,4.87],[11596,8.74],[11745,8.68],[11872,8.68],[11914,7.01],[11999,7.08]]

// limit masks
const upperMask = [[0,19],[90,19],[90,27],[10910,27],[10910,25],[12000,25]]
const lowerMask = [[0,10],[90,10],[90,13],[12000,13]]

const traces = [trace27, trace26, trace25, trace24, trace23, trace22, trace21,
  trace20, trace19, trace18, trace17, trace16, trace15, trace14,
  trace13, trace12, trace11, trace10, trace9, trace8, trace7]
const palette = ["#404040", "#bfbf00", "#bf00bf", "#00bfbf", "#ff0000", "#008000", "#0000ff"]

const FONT = "'Liberation Sans', Arial, sans-serif"

const toPoints = (pairs) => pairs.map(([x, y]) => ({ x, y }))

const datasets = traces.map((t, i) => ({
  data: toPoints(t),
  borderColor: palette[i % palette.length],
  borderWidth: 2,
  pointRadius: 0,
  tension: 0,
  fill: false,
}))

// masks go last so they sit under the traces
;[upperMask, lowerMask].forEach((m) => {
  datasets.push({
    data: toPoints(m),
    borderColor: "rgba(255, 30, 30, 0.55)",
    borderWidth: 3,
    borderDash: [1.5, 1.5],
    pointRadius: 0,
    tension: 0,
    fill: false,
  })
})

// box around the plot with inward ticks on all four sides
const frameTicks = {
  id: "frameTicks",
  afterDraw(chart) {
    const { ctx, chartArea: a, scales } = chart
    ctx.save()
    ctx.strokeStyle = "#333"
    ctx.lineWidth = 1
    ctx.beginPath()
    for (let v = 0; v <= 30; v++) {
      const y = Math.round(scales.y.getPixelForValue(v)) + 0.5
      const len = v % 5 === 0 ? 9 : 6
      ctx.moveTo(a.left, y)
      ctx.lineTo(a.left + len, y)
      ctx.moveTo(a.right, y)
      ctx.lineTo(a.right - len, y)
    }
    for (let v = 0; v <= 12000; v += 1000) {
      const x = Math.round(scales.x.getPixelForValue(v)) + 0.5
      const len = v % 2000 === 0 ? 9 : 6
      ctx.moveTo(x, a.bottom)
      ctx.lineTo(x, a.bottom - len)
      ctx.moveTo(x, a.top)
      ctx.lineTo(x, a.top + len)
    }
    ctx.stroke()
    ctx.lineWidth = 1.5
    ctx.strokeRect(a.left, a.top, a.right - a.left, a.bottom - a.top)
    ctx.restore()
  },
}

new Chart(document.getElementById("levelChart"), {
  type: "line",
  data: { datasets },
  options: {
    responsive: false,
    animation: false,
    events: [],
    layout: { padding: { left: 0, right: 40, top: 20, bottom: 0 } },
    plugins: { legend: { display: false }, tooltip: { enabled: false } },
    scales: {
      x: {
        type: "linear",
        min: 0,
        max: 12000,
        afterBuildTicks: (s) => { s.ticks = freqTicks.map((v) => ({ value: v })) },
        afterFit: (s) => { s.height = 63 },
        ticks: {
          color: "#111",
          font: { family: FONT, size: 20 },
          padding: 7,
          maxRotation: 0,
          callback: (v) => String(v),
        },
        grid: { color: "#c8c8c8", lineWidth: 1, drawTicks: false },
        border: { display: false, dash: [1, 2] },
        title: { display: true, text: "Frequency, MHz", color: "#111", font: { family: FONT, size: 20 }, padding: { top: 0, bottom: 4 } },
      },
      y: {
        type: "linear",
        min: 0,
        max: 30,
        afterBuildTicks: (s) => { s.ticks = levelTicks.map((v) => ({ value: v })) },
        afterFit: (s) => { s.width = 70 },
        ticks: { color: "#111", font: { family: FONT, size: 20 }, padding: 8, callback: (v) => String(v) },
        grid: { color: "#c8c8c8", lineWidth: 1, drawTicks: false },
        border: { display: false, dash: [1, 2] },
        title: { display: true, text: "Level, dBm", color: "#111", font: { family: FONT, size: 20 }, padding: { top: 10, bottom: 0 } },
      },
    },
  },
  plugins: [frameTicks],
})
</script>
</body>
</html>
